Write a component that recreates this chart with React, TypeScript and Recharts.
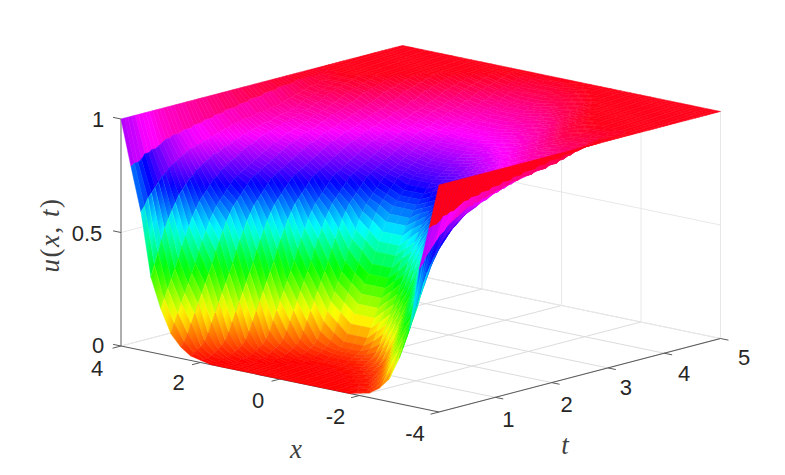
import React from "react";
import { ScatterChart, Scatter, XAxis, YAxis } from "recharts";

// |x| columns: 0, 0.25 ... 4; the surface reads the same on both sides of x = 0
const absXValues = [0, 0.25, 0.5, 0.75, 1, 1.25, 1.5, 1.75, 2, 2.25, 2.5, 2.75, 3, 3.25, 3.5, 3.75, 4];
const tStep = 0.0625;
// u(x,t) in percent: one list per |x|, 81 readings from t = 0 to t = 5
const uByColumn = [
  [0,0,0,0,0,0,0,0,0,0,0,0,0,0,1,1,1,2,3,4,5,7,10,14,18,22,26,30,34,38,43,47,51,55,58,61,63,65,67,69,71,72,73,74,75,76,77,78,79,80,81,82,82,83,84,85,85,86,86,87,88,88,89,90,90,91,91,92,93,93,94,95,96,96,97,97,98,98,99,99,100],
  [0,0,0,0,0,0,0,0,0,0,0,0,0,0,1,1,1,2,3,4,5,7,10,14,18,22,26,30,34,38,43,47,51,55,58,61,63,65,67,69,71,72,73,74,75,76,77,78,79,80,81,82,82,83,84,85,85,86,86,87,88,88,89,90,90,91,91,92,93,93,94,95,96,96,97,97,98,98,99,99,100],
  [0,0,0,0,0,0,0,0,0,0,0,0,0,1,1,1,2,3,4,5,7,10,14,18,22,26,30,34,38,43,47,51,55,58,61,63,65,67,69,71,72,73,74,75,76,77,78,79,80,81,82,82,83,84,85,85,86,86,87,88,88,89,90,90,91,91,92,93,93,94,95,96,96,97,97,98,98,99,99,100,100],
  [0,0,0,0,0,0,0,0,0,0,0,0,1,1,1,2,3,4,5,7,10,14,18,22,26,30,34,38,43,47,51,55,58,61,63,65,67,69,71,72,73,74,75,76,77,78,79,80,81,82,82,83,84,85,85,86,86,87,88,88,89,90,90,91,91,92,93,93,94,95,96,96,97,97,98,98,99,99,100,100,100],
  [0,0,0,0,0,0,0,0,0,0,1,1,1,2,3,4,5,7,10,14,18,22,26,30,34,38,43,47,51,55,58,61,63,65,67,69,71,72,73,74,75,76,77,78,79,80,81,82,82,83,84,85,85,86,86,87,88,88,89,90,90,91,91,92,93,93,94,95,96,96,97,97,98,98,99,99,100,100,100,100,100],
  [0,0,0,0,0,0,0,0,1,1,1,2,3,4,5,7,10,14,18,22,26,30,34,38,43,47,51,55,58,61,63,65,67,69,71,72,73,74,75,76,77,78,79,80,81,82,82,83,84,85,85,86,86,87,88,88,89,90,90,91,91,92,93,93,94,95,96,96,97,97,98,98,99,99,100,100,100,100,100,100,100],
  [0,0,0,0,0,0,1,1,1,2,3,4,5,7,10,14,18,22,26,30,34,38,43,47,51,55,58,61,63,65,67,69,71,72,73,74,75,76,77,78,79,80,81,82,82,83,84,85,85,86,86,87,88,88,89,90,90,91,91,92,93,93,94,95,96,96,97,97,98,98,99,99,100,100,100,100,100,100,100,100,100],
  [0,0,0,1,1,1,2,3,4,5,7,10,14,18,22,26,30,34,38,43,47,51,55,58,61,63,65,67,69,71,72,73,74,75,76,77,78,79,80,81,82,82,83,84,85,85,86,86,87,88,88,89,90,90,91,91,92,93,93,94,95,96,96,97,97,98,98,99,99,100,100,100,100,100,100,100,100,100,100,100,100],
  [1,1,1,2,3,4,5,7,10,14,18,22,26,30,34,38,43,47,51,55,58,61,63,65,67,69,71,72,73,74,75,76,77,78,79,80,81,82,82,83,84,85,85,86,86,87,88,88,89,90,90,91,91,92,93,93,94,95,96,96,97,97,98,98,99,99,100,100,100,100,100,100,100,100,100,100,100,100,100,100,100],
  [2,3,4,5,7,10,14,18,22,26,30,34,38,43,47,51,55,58,61,63,65,67,69,71,72,73,74,75,76,77,78,79,80,81,82,82,83,84,85,85,86,86,87,88,88,89,90,90,91,91,92,93,93,94,95,96,96,97,97,98,98,99,99,100,100,100,100,100,100,100,100,100,100,100,100,100,100,100,100,100,100],
  [5,7,10,14,18,22,26,30,34,38,43,47,51,55,58,61,63,65,67,69,71,72,73,74,75,76,77,78,79,80,81,82,82,83,84,85,85,86,86,87,88,88,89,90,90,91,91,92,93,93,94,95,96,96,97,97,98,98,99,99,100,100,100,100,100,100,100,100,100,100,100,100,100,100,100,100,100,100,100,100,100],
  [10,14,18,22,26,30,34,38,43,47,51,55,58,61,63,65,67,69,71,72,73,74,75,76,77,78,79,80,81,82,82,83,84,85,85,86,86,87,88,88,89,90,90,91,91,92,93,93,94,95,96,96,97,97,98,98,99,99,100,100,100,100,100,100,100,100,100,100,100,100,100,100,100,100,100,100,100,100,100,100,100],
  [20,24,28,32,36,40,45,49,53,57,60,63,65,67,69,71,72,74,75,76,77,78,79,80,81,82,82,83,84,85,85,86,86,87,87,88,88,89,89,90,90,91,91,92,93,93,94,95,96,96,97,97,98,98,99,99,100,100,100,100,100,100,100,100,100,100,100,100,100,100,100,100,100,100,100,100,100,100,100,100,100],
  [33,38,43,48,53,57,60,63,66,68,70,72,73,75,76,77,78,79,80,80,81,82,82,83,84,84,85,85,86,86,87,87,88,88,88,89,89,90,90,90,91,91,92,93,94,94,95,95,96,96,97,97,98,98,99,99,100,100,100,100,100,100,100,100,100,100,100,100,100,100,100,100,100,100,100,100,100,100,100,100,100],
  [61,63,66,68,70,72,74,75,77,78,79,80,81,82,83,83,84,84,85,85,86,86,87,87,88,88,89,89,89,90,90,90,90,91,91,91,91,92,92,92,93,93,94,94,95,95,96,96,97,97,97,98,98,98,99,99,100,100,100,100,100,100,100,100,100,100,100,100,100,100,100,100,100,100,100,100,100,100,100,100,100],
  [80,81,81,82,84,84,85,85,86,87,88,88,89,89,89,90,90,90,91,91,91,92,92,92,93,93,93,94,94,94,94,95,95,95,96,96,96,96,97,97,97,97,98,98,98,98,98,99,99,99,99,99,99,99,99,99,100,100,100,100,100,100,100,100,100,100,100,100,100,100,100,100,100,100,100,100,100,100,100,100,100],
  [100,100,100,100,100,100,100,100,100,100,100,100,100,100,100,100,100,100,100,100,100,100,100,100,100,100,100,100,100,100,100,100,100,100,100,100,100,100,100,100,100,100,100,100,100,100,100,100,100,100,100,100,100,100,100,100,100,100,100,100,100,100,100,100,100,100,100,100,100,100,100,100,100,100,100,100,100,100,100,100,100],
];
const xTicks = [4, 2, 0, -2, -4];
const tTicks = [1, 2, 3, 4, 5];
const zTicks = [0, 0.5, 1];
const xTickLabels = ["4", "2", "0", "-2", "-4"];
const tTickLabels = ["1", "2", "3", "4", "5"];
const zTickLabels = ["0", "0.5", "1"];

const W = 785;
const H = 475;
const AXIS_TEXT = "#262626";
const FONT = "'Liberation Sans', Arial, sans-serif";
const MATH = "'Liberation Serif', serif";

// orthographic view of the box, from (x, t, u) to the flat chart plane
const project = (x: number, t: number, u: number) => ({
  px: 121 + (4 - x) * 39.75 + t * 56.3,
  py: 346 + (4 - x) * 8.25 - t * 14.7 - u * 227,
});

// hsv colormap: red at 0, through yellow, green, cyan, blue, magenta, back to red
const hsvColor = (u: number) => `hsl(${Math.max(0, Math.min(1, u)) * (63 / 64) * 360}, 100%, 50%)`;

const last = absXValues.length - 1;
const allX = [...absXValues.slice(1).reverse().map((v) => -v), ...absXValues];
const tValues = uByColumn[0].map((_, i) => i * tStep);
const uAt = (xi: number, ti: number) => uByColumn[Math.abs(xi - last)][ti] / 100;

type Pt = { px: number; py: number };
type Facet = Pt & { id: string; corners: Pt[]; flat: boolean; u0: number; u1: number; from: Pt; to: Pt };
const facets: Facet[] = [];
// far to near, so nearer facets paint over farther ones
for (let xi = allX.length - 2; xi >= 0; xi--) {
  for (let ti = tValues.length - 2; ti >= 0; ti--) {
    const ua = uAt(xi, ti);
    const ub = uAt(xi + 1, ti);
    const uc = uAt(xi + 1, ti + 1);
    const ud = uAt(xi, ti + 1);
    const a = project(allX[xi], tValues[ti], ua);
    const b = project(allX[xi + 1], tValues[ti], ub);
    const c = project(allX[xi + 1], tValues[ti + 1], uc);
    const d = project(allX[xi], tValues[ti + 1], ud);
    const outer = Math.max(Math.abs(allX[xi]), Math.abs(allX[xi + 1])) > 3.6;
    const sideA = (ua + ud) / 2;
    const sideB = (ub + uc) / 2;
    // shade across the strip, stopping short of the next strip's tone
    const u1 = sideA + 0.65 * (sideB - sideA);
    const m1 = { px: (a.px + d.px) / 2, py: (a.py + d.py) / 2 };
    const m2 = { px: (b.px + c.px) / 2, py: (b.py + c.py) / 2 };
    const ex = d.px - a.px;
    const ey = d.py - a.py;
    const len = Math.hypot(ex, ey) || 1;
    const nx = -ey / len;
    const ny = ex / len;
    const dist = (m2.px - m1.px) * nx + (m2.py - m1.py) * ny;
    facets.push({
      px: a.px,
      py: a.py,
      id: `f${xi}-${ti}`,
      corners: [a, b, c, d],
      flat: outer || Math.abs(sideB - sideA) < 0.006,
      u0: outer ? ua : sideA,
      u1,
      from: m1,
      to: { px: m1.px + nx * dist, py: m1.py + ny * dist },
    });
  }
}

type Guide = Pt & { ex: number; ey: number; stroke: string; w: number };
const seg = (p: Pt, q: Pt, stroke: string, w: number): Guide => ({
  px: p.px, py: p.py, ex: q.px, ey: q.py, stroke, w,
});
const WALL = "#e8e8e8";
const FLOOR = "#dcdcdc";
const RULER = "#5a5a5a";
const guides: Guide[] = [];
xTicks.forEach((x) => {
  guides.push(seg(project(x, 0, 0), project(x, 5, 0), FLOOR, 1));
  guides.push(seg(project(x, 5, 0), project(x, 5, 1), WALL, 1));
});
tTicks.forEach((t) => {
  guides.push(seg(project(4, t, 0), project(-4, t, 0), FLOOR, 1));
  guides.push(seg(project(4, t, 0), project(4, t, 1), WALL, 1));
});
zTicks.forEach((z) => {
  guides.push(seg(project(4, 0, z), project(4, 5, z), WALL, 1));
  guides.push(seg(project(4, 5, z), project(-4, 5, z), WALL, 1));
});
guides.push(seg(project(4, 0, 0), project(4, 0, 1), "#8c8c8c", 1.4));
guides.push(seg(project(4, 0, 0), project(-4, 0, 0), RULER, 1.1));
guides.push(seg(project(-4, 0, 0), project(-4, 5, 0), RULER, 1.1));
xTicks.forEach((x) => guides.push(seg(project(x, 0, 0), project(x, -0.15, 0), RULER, 1)));
tTicks.forEach((t) => guides.push(seg(project(-4, t, 0), project(-4.2, t, 0), RULER, 1)));
zTicks.forEach((z) => guides.push(seg(project(4, 0, z), project(4.2, 0, z), RULER, 1)));

// nudges of each tick label from its tick, in chart pixels
const xNudge = [[-24, 22], [-22, 20], [-22, 21], [-24, 21], [-24, 21]];
const tNudge = [[13, 22], [15, 21.5], [18, 20], [20, 20], [23.5, 18.5]];
const zNudge = [[-23, -1], [-34, 1], [-23, 0]];
type Lab = Pt & { text: string; dx: number; dy: number };
const labels: Lab[] = [
  ...xTicks.map((x, i) => ({ ...project(x, 0, 0), text: xTickLabels[i], dx: xNudge[i][0], dy: xNudge[i][1] })),
  ...tTicks.map((t, i) => ({ ...project(-4, t, 0), text: tTickLabels[i], dx: tNudge[i][0], dy: tNudge[i][1] })),
  ...zTicks.map((z, i) => ({ ...project(4, 0, z), text: zTickLabels[i], dx: zNudge[i][0], dy: zNudge[i][1] })),
];
const titleData = [{ px: 296, py: 449, kind: "x" }, { px: 565, py: 445, kind: "t" }, { px: 50, py: 235, kind: "u" }];

const FacetShape = (p: any) => {
  const f: Facet = p.payload;
  const ox = p.cx - f.px;
  const oy = p.cy - f.py;
  const points = f.corners.map((c) => `${c.px + ox},${c.py + oy}`).join(" ");
  if (f.flat) {
    const col = hsvColor(f.u0);
    return <polygon points={points} fill={col} stroke={col} strokeWidth={0.5} strokeLinejoin="round" />;
  }
  const mid = hsvColor((f.u0 + f.u1) / 2);
  return (
    <g>
      <defs>
        <linearGradient id={f.id} gradientUnits="userSpaceOnUse" x1={f.from.px + ox} y1={f.from.py + oy} x2={f.to.px + ox} y2={f.to.py + oy}>
          <stop offset="0" stopColor={hsvColor(f.u0)} />
          <stop offset="0.5" stopColor={mid} />
          <stop offset="1" stopColor={hsvColor(f.u1)} />
        </linearGradient>
      </defs>
      <polygon points={points} fill={`url(#${f.id})`} stroke={mid} strokeWidth={0.4} strokeLinejoin="round" />
    </g>
  );
};
const GuideShape = (p: any) => {
  const g: Guide = p.payload;
  return <line x1={p.cx} y1={p.cy} x2={p.cx + g.ex - g.px} y2={p.cy + g.ey - g.py} stroke={g.stroke} strokeWidth={g.w} />;
};
const LabelShape = (p: any) => {
  const l: Lab = p.payload;
  return (
    <text x={p.cx + l.dx} y={p.cy + l.dy} fontFamily={FONT} fontSize={22} fill={AXIS_TEXT} textAnchor="middle" dominantBaseline="central">
      {l.text}
    </text>
  );
};
const TitleShape = (p: any) => {
  const k = p.payload.kind;
  const common = { fontFamily: MATH, fontSize: 27, fill: "#404040", textAnchor: "middle" as const, dominantBaseline: "central" as const };
  if (k === "u") {
    return (
      <text {...common} x={p.cx} y={p.cy} transform={`rotate(-90 ${p.cx} ${p.cy})`} letterSpacing={1.5}>
        <tspan fontStyle="italic">u</tspan>(<tspan fontStyle="italic">x</tspan>, <tspan fontStyle="italic">t</tspan>)
      </text>
    );
  }
  return <text {...common} x={p.cx} y={p.cy} fontStyle="italic">{k}</text>;
};

export default function App() {
  return (
    <div style={{ position: "absolute", left: 0, top: 0, width: W, height: H, background: "#fff" }}>
      <ScatterChart width={W} height={H} margin={{ top: 0, right: 0, bottom: 0, left: 0 }}>
        <XAxis type="number" dataKey="px" domain={[0, W]} hide />
        <YAxis type="number" dataKey="py" domain={[0, H]} reversed hide />
        <Scatter data={guides} shape={GuideShape} isAnimationActive={false} />
        <Scatter data={facets} shape={FacetShape} isAnimationActive={false} />
        <Scatter data={labels} shape={LabelShape} isAnimationActive={false} />
        <Scatter data={titleData} shape={TitleShape} isAnimationActive={false} />
      </ScatterChart>
    </div>
  );
}
